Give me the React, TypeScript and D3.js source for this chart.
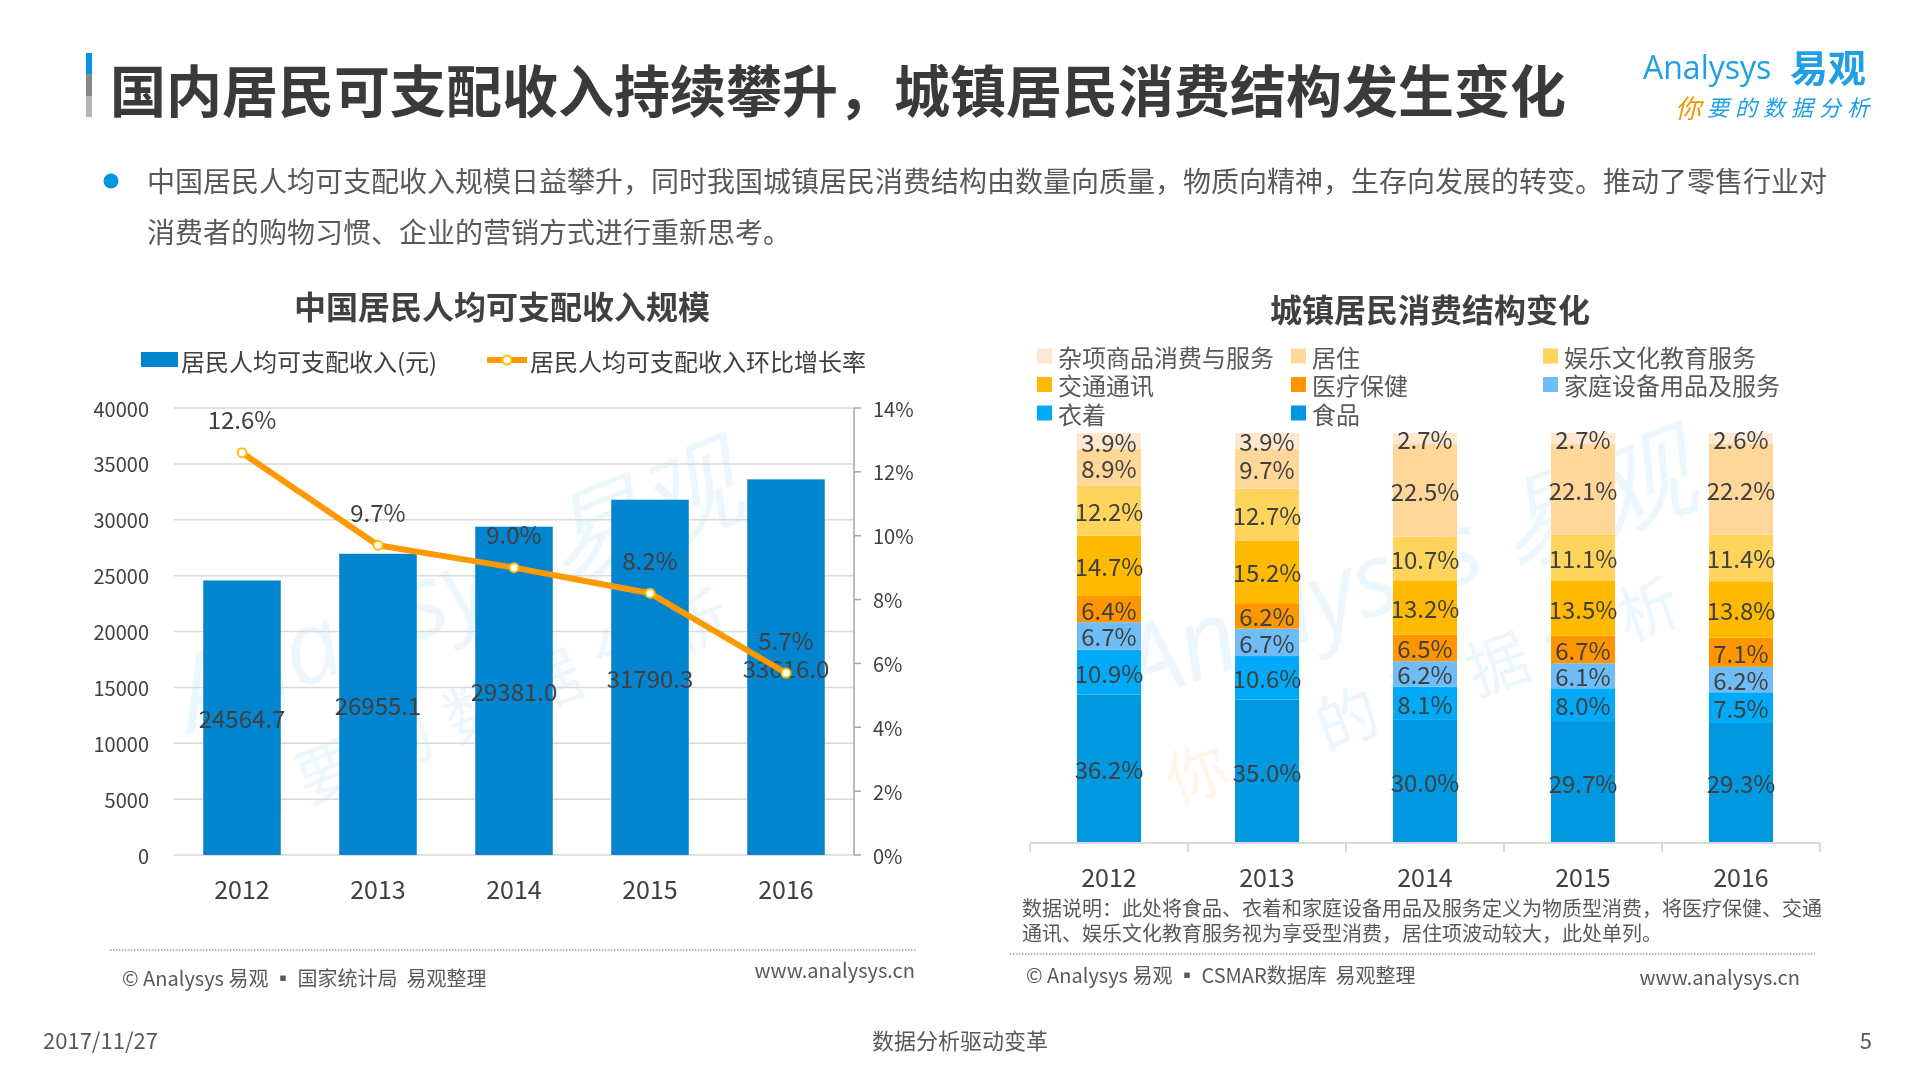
import React from 'react';
import * as d3 from 'd3';

// ---------- data ----------
const years = ['2012', '2013', '2014', '2015', '2016'];
const income = [24564.7, 26955.1, 29381.0, 31790.3, 33616.0];
const growth = [12.6, 9.7, 9.0, 8.2, 5.7];
const incomeTicks = [0, 5000, 10000, 15000, 20000, 25000, 30000, 35000, 40000];
const growthTicks = [0, 2, 4, 6, 8, 10, 12, 14];

// consumption structure (bottom -> top)
const catKeys = ['food', 'clothing', 'household', 'medical', 'transport', 'culture', 'housing', 'misc'];
const catNames = ['食品', '衣着', '家庭设备用品及服务', '医疗保健', '交通通讯', '娱乐文化教育服务', '居住', '杂项商品消费与服务'];
const catColors = ['#0098DE', '#00AAF8', '#6FBDF7', '#FF9600', '#FFB900', '#FFD45C', '#FFD799', '#FEE8CF'];
const food = [36.2, 35.0, 30.0, 29.7, 29.3];
const clothing = [10.9, 10.6, 8.1, 8.0, 7.5];
const household = [6.7, 6.7, 6.2, 6.1, 6.2];
const medical = [6.4, 6.2, 6.5, 6.7, 7.1];
const transport = [14.7, 15.2, 13.2, 13.5, 13.8];
const culture = [12.2, 12.7, 10.7, 11.1, 11.4];
const housing = [8.9, 9.7, 22.5, 22.1, 22.2];
const misc = [3.9, 3.9, 2.7, 2.7, 2.6];
// legend order (row-major, 3 columns)
const legendOrder = ['misc', 'housing', 'culture', 'transport', 'medical', 'household', 'clothing', 'food'];

const FONT = "'Noto Sans CJK SC', 'Microsoft YaHei', sans-serif";
const DARK = '#404040';
const GRAY = '#595959';

export default function App() {
  // ---- left chart scales ----
  const xL = d3.scaleBand<string>().domain(years).range([174, 854]).paddingInner(0.43).paddingOuter(0.215);
  const yL = d3.scaleLinear().domain([0, 40000]).range([855, 408]);
  const yR = d3.scaleLinear().domain([0, 14]).range([855, 408]);
  const cx = (y: string) => (xL(y) as number) + xL.bandwidth() / 2;
  const lineGen = d3.line<number>().x((_, i) => cx(years[i])).y((d) => yR(d));

  // ---- right chart ----
  const rows = years.map((y, i) => ({
    year: y,
    food: food[i], clothing: clothing[i], household: household[i], medical: medical[i],
    transport: transport[i], culture: culture[i], housing: housing[i], misc: misc[i],
  }));
  const stack = d3.stack<any>().keys(catKeys).offset(d3.stackOffsetExpand);
  const series = stack(rows);
  const xS = d3.scaleBand<string>().domain(years).range([1030, 1820]).paddingInner(0.595).paddingOuter(0.2975);
  const yS = d3.scaleLinear().domain([0, 1]).range([843, 433]);
  const step = xS.step();
  const colorOf = (k: string) => catColors[catKeys.indexOf(k)];
  const nameOf = (k: string) => catNames[catKeys.indexOf(k)];

  return (
    <svg width={1920} height={1080} style={{ position: 'absolute', left: 0, top: 0, background: '#fff' }} fontFamily={FONT}>
      <rect width={1920} height={1080} fill="#fff" />

      {/* watermarks */}
      <g opacity={0.08}>
        <g transform="translate(470,620) rotate(-22)">
          <text textAnchor="middle" fontSize={100} fill="#0096E0" fontFamily="'Open Sans', sans-serif" fontStyle="italic">Analysys 易观</text>
          <text y={110} x={-20} textAnchor="middle" fontSize={62} fill="#0096E0" letterSpacing={18}>
            <tspan fill="#F08300">你</tspan>要的数据分析
          </text>
        </g>
        <g transform="translate(1420,600) rotate(-20)">
          <text textAnchor="middle" fontSize={100} fill="#0096E0" fontFamily="'Open Sans', sans-serif" fontStyle="italic">Analysys 易观</text>
          <text y={110} x={-20} textAnchor="middle" fontSize={62} fill="#0096E0" letterSpacing={18}>
            <tspan fill="#F08300">你</tspan>要的数据分析
          </text>
        </g>
      </g>

      {/* title bar */}
      <rect x={86} y={53} width={6} height={21} fill="#0096E0" />
      <rect x={86} y={74} width={6} height={22} fill="#888888" />
      <rect x={86} y={96} width={6} height={21} fill="#B4B4B4" />
      <text x={110} y={87} fontSize={56} fontWeight="bold" fill="#3A3A3A" dominantBaseline="central">
        国内居民可支配收入持续攀升，城镇居民消费结构发生变化
      </text>

      {/* logo */}
      <text x={1643} y={66} fontSize={32} fill="#1E9FE6" dominantBaseline="central" fontFamily="'Open Sans', sans-serif">Analysys</text>
      <text x={1790} y={65} fontSize={38} fontWeight="bold" fill="#1E9FE6" dominantBaseline="central">易观</text>
      <text x={1675} y={106} fontSize={22} fill="#1E9FE6" dominantBaseline="central" letterSpacing={6} fontStyle="italic">
        <tspan fill="#F39800" fontSize={26}>你</tspan>要的数据分析
      </text>

      {/* bullet paragraph */}
      <circle cx={111} cy={181} r={7.5} fill="#0096E0" />
      <text x={147} y={180} fontSize={28} fill={GRAY} dominantBaseline="central">
        中国居民人均可支配收入规模日益攀升，同时我国城镇居民消费结构由数量向质量，物质向精神，生存向发展的转变。推动了零售行业对
      </text>
      <text x={147} y={231} fontSize={28} fill={GRAY} dominantBaseline="central">
        消费者的购物习惯、企业的营销方式进行重新思考。
      </text>

      {/* ================= LEFT CHART ================= */}
      <text x={502} y={305} fontSize={32} fontWeight="bold" fill={DARK} textAnchor="middle" dominantBaseline="central">
        中国居民人均可支配收入规模
      </text>
      {/* legend */}
      <rect x={141} y={352} width={37} height={15} fill="#0284CE" />
      <text x={181} y={360} fontSize={24} fill={DARK} dominantBaseline="central">居民人均可支配收入(元)</text>
      <line x1={487} x2={527} y1={360} y2={360} stroke="#FF9900" strokeWidth={6} />
      <circle cx={507} cy={360} r={4.5} fill="#fff" stroke="#FFC000" strokeWidth={2} />
      <text x={530} y={360} fontSize={24} fill={DARK} dominantBaseline="central">居民人均可支配收入环比增长率</text>

      {/* gridlines & left ticks */}
      {incomeTicks.map((t) => (
        <g key={t}>
          <line x1={174} x2={854} y1={yL(t)} y2={yL(t)} stroke="#D9D9D9" strokeWidth={1.5} />
          <text x={149} y={yL(t)} fontSize={20} fill={DARK} textAnchor="end" dominantBaseline="central">{t}</text>
        </g>
      ))}
      {/* right axis */}
      <line x1={854} x2={854} y1={408} y2={855} stroke="#A6A6A6" strokeWidth={1.5} />
      {growthTicks.map((t) => (
        <g key={t}>
          <line x1={854} x2={861} y1={yR(t)} y2={yR(t)} stroke="#A6A6A6" strokeWidth={1.5} />
          <text x={873} y={yR(t)} fontSize={20} fill={DARK} dominantBaseline="central">{t}%</text>
        </g>
      ))}
      {/* bars */}
      {years.map((y, i) => (
        <rect key={y} x={xL(y)} y={yL(income[i])} width={xL.bandwidth()} height={yL(0) - yL(income[i])} fill="#0284CE" />
      ))}
      {years.map((y, i) => (
        <text key={y} x={cx(y)} y={(yL(income[i]) + yL(0)) / 2} fontSize={24} fill={DARK} textAnchor="middle" dominantBaseline="central">
          {income[i].toFixed(1)}
        </text>
      ))}
      {/* line */}
      <path d={lineGen(growth) as string} fill="none" stroke="#FF9900" strokeWidth={6} strokeLinejoin="round" />
      {growth.map((g, i) => (
        <circle key={i} cx={cx(years[i])} cy={yR(g)} r={4.5} fill="#fff" stroke="#FFC000" strokeWidth={2} />
      ))}
      {growth.map((g, i) => (
        <text key={i} x={cx(years[i])} y={yR(g) - 34} fontSize={24} fill={DARK} textAnchor="middle" dominantBaseline="central">
          {g.toFixed(1)}%
        </text>
      ))}
      {/* x labels */}
      {years.map((y) => (
        <text key={y} x={cx(y)} y={888} fontSize={25} fill={DARK} textAnchor="middle" dominantBaseline="central">{y}</text>
      ))}
      {/* footer line & source */}
      <line x1={110} x2={916} y1={950} y2={950} stroke="#A0A0A0" strokeWidth={1.5} strokeDasharray="1.5 1.5" />
      <text x={122} y={977} fontSize={20} fill={GRAY} dominantBaseline="central">{'© Analysys 易观 ▪ 国家统计局\u00A0\u00A0易观整理'}</text>
      <text x={915} y={969} fontSize={20} fill={GRAY} textAnchor="end" dominantBaseline="central">www.analysys.cn</text>

      {/* ================= RIGHT CHART ================= */}
      <text x={1430} y={308} fontSize={32} fontWeight="bold" fill={DARK} textAnchor="middle" dominantBaseline="central">
        城镇居民消费结构变化
      </text>
      {legendOrder.map((k, i) => {
        const col = i % 3;
        const row = Math.floor(i / 3);
        const lx = [1037, 1291, 1543][col];
        const ly = 356 + row * 28.5;
        return (
          <g key={k}>
            <rect x={lx} y={ly - 7.5} width={15} height={15} fill={colorOf(k)} />
            <text x={lx + 21} y={ly} fontSize={24} fill={GRAY} dominantBaseline="central">{nameOf(k)}</text>
          </g>
        );
      })}
      {/* stacked bars */}
      {series.map((s) => (
        <g key={s.key}>
          {s.map((d, i) => (
            <rect key={i} x={xS(years[i])} y={yS(d[1])} width={xS.bandwidth()} height={yS(d[0]) - yS(d[1])} fill={colorOf(s.key)} />
          ))}
        </g>
      ))}
      {series.map((s) => (
        <g key={s.key + 'l'}>
          {s.map((d, i) => (
            <text key={i} x={(xS(years[i]) as number) + xS.bandwidth() / 2} y={(yS(d[0]) + yS(d[1])) / 2}
              fontSize={24} fill={DARK} textAnchor="middle" dominantBaseline="central">
              {(rows[i] as any)[s.key].toFixed(1)}%
            </text>
          ))}
        </g>
      ))}
      {/* axis */}
      <line x1={1030} x2={1820} y1={843} y2={843} stroke="#D9D9D9" strokeWidth={2} />
      {d3.range(years.length + 1).map((i) => (
        <line key={i} x1={1030 + i * step} x2={1030 + i * step} y1={843} y2={852} stroke="#D9D9D9" strokeWidth={2} />
      ))}
      {years.map((y) => (
        <text key={y} x={(xS(y) as number) + xS.bandwidth() / 2} y={876} fontSize={25} fill={DARK} textAnchor="middle" dominantBaseline="central">{y}</text>
      ))}
      <text x={1022} y={907} fontSize={20} fill={GRAY} dominantBaseline="central">
        数据说明：此处将食品、衣着和家庭设备用品及服务定义为物质型消费，将医疗保健、交通
      </text>
      <text x={1022} y={932} fontSize={20} fill={GRAY} dominantBaseline="central">
        通讯、娱乐文化教育服务视为享受型消费，居住项波动较大，此处单列。
      </text>
      <line x1={1010} x2={1815} y1={954} y2={954} stroke="#A0A0A0" strokeWidth={1.5} strokeDasharray="1.5 1.5" />
      <text x={1026} y={974} fontSize={20} fill={GRAY} dominantBaseline="central">{'© Analysys 易观 ▪ CSMAR数据库\u00A0\u00A0易观整理'}</text>
      <text x={1800} y={976} fontSize={20} fill={GRAY} textAnchor="end" dominantBaseline="central">www.analysys.cn</text>

      {/* page footer */}
      <text x={43} y={1039} fontSize={22} fill={GRAY} dominantBaseline="central">2017/11/27</text>
      <text x={960} y={1039} fontSize={22} fill={GRAY} textAnchor="middle" dominantBaseline="central">数据分析驱动变革</text>
      <text x={1872} y={1039} fontSize={22} fill={GRAY} textAnchor="end" dominantBaseline="central">5</text>
    </svg>
  );
}
